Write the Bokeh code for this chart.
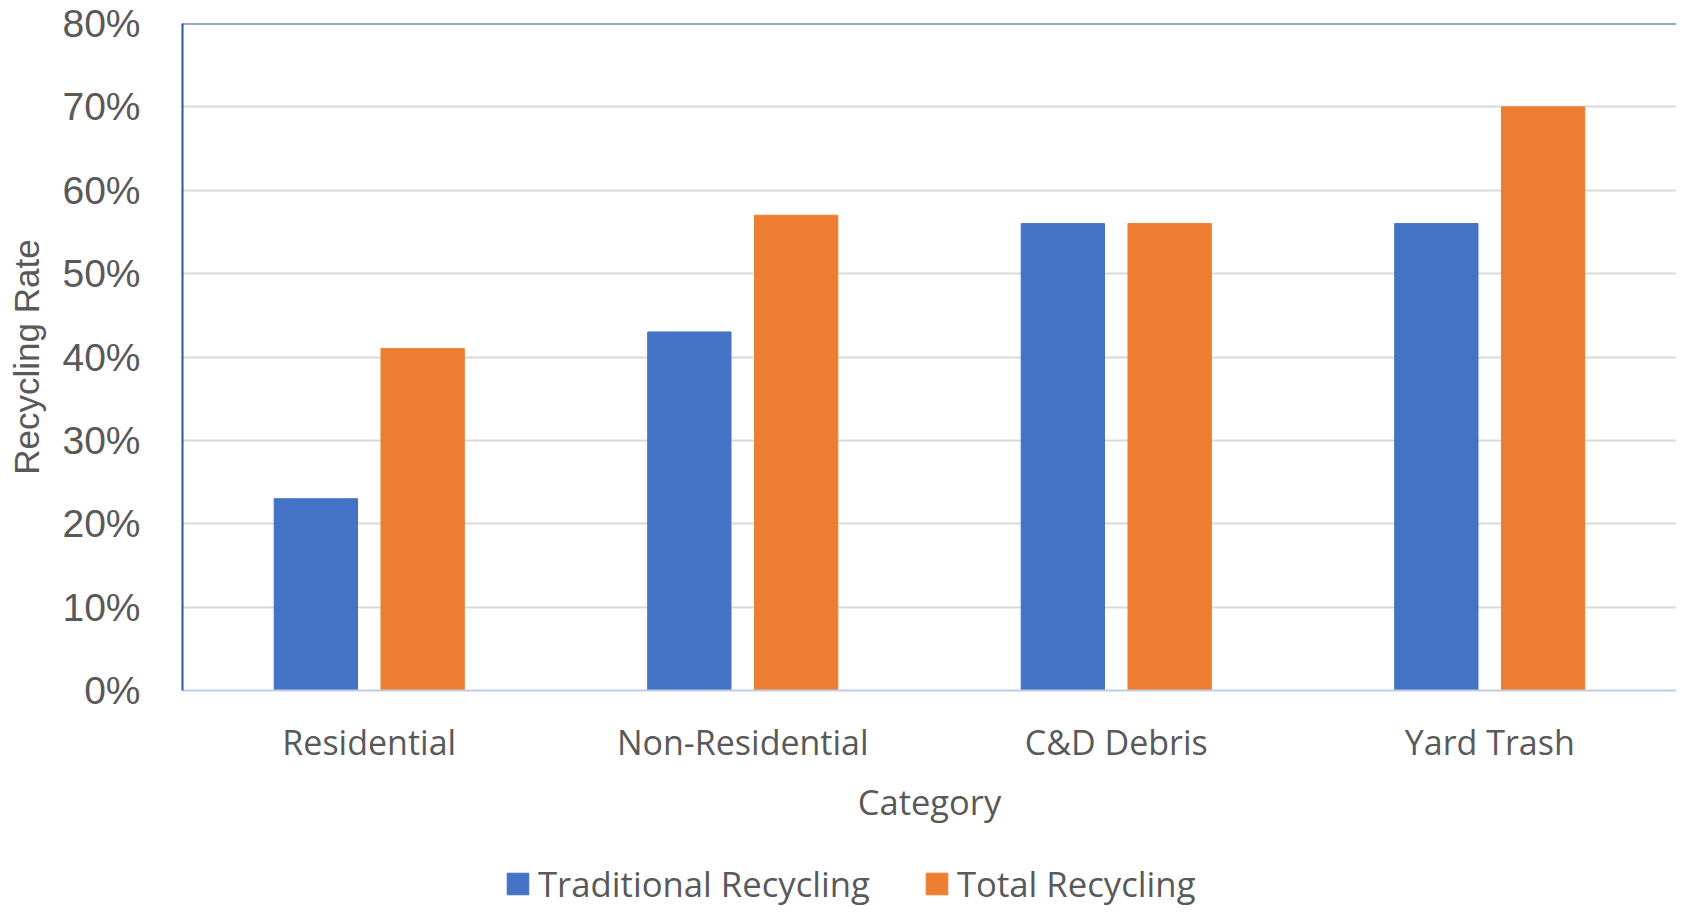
from bokeh.plotting import figure
from bokeh.models import (FactorRange, Range1d, NumeralTickFormatter, SingleIntervalTicker,
                          Legend, LegendItem, Span, ColumnDataSource)
from bokeh.layouts import column
from bokeh.transform import dodge
from bokeh.embed import file_html
from bokeh.resources import INLINE

categories = ["Residential", "Non-Residential", "C&D Debris", "Yard Trash"]
traditional = [0.23, 0.43, 0.56, 0.56]
total = [0.41, 0.57, 0.56, 0.70]
series_names = ["Traditional Recycling", "Total Recycling"]
y_ticks_max = 0.8

BLUE = "#4472C4"
ORANGE = "#ED7D31"
TEXT = "#595959"

src = ColumnDataSource(dict(cat=categories, trad=traditional, tot=total))

p = figure(x_range=FactorRange(*categories, range_padding=0),
           y_range=Range1d(0, y_ticks_max),
           width=1676, height=830, output_backend="svg", toolbar_location=None,
           min_border_left=182, min_border_right=0, min_border_top=23, min_border_bottom=140)

bw = 0.223
p.vbar(x=dodge("cat", -0.143, range=p.x_range), top="trad", width=bw, source=src,
       fill_color=BLUE, line_color=BLUE)
p.vbar(x=dodge("cat", 0.143, range=p.x_range), top="tot", width=bw, source=src,
       fill_color=ORANGE, line_color=ORANGE)

p.outline_line_color = None
p.background_fill_color = "white"
p.border_fill_color = "white"

p.xgrid.grid_line_color = None
p.ygrid.grid_line_color = "#D9D9D9"
p.ygrid.grid_line_width = 2
p.yaxis.ticker = SingleIntervalTicker(interval=0.1)
p.yaxis.formatter = NumeralTickFormatter(format="0%")

p.add_layout(Span(location=y_ticks_max, dimension="width", line_color="#2F5597", line_width=2))

ya = p.yaxis[0]
ya.axis_label = "Recycling Rate"
ya.axis_label_text_font = "Liberation Sans"
ya.axis_label_text_font_size = "35px"
ya.axis_label_text_font_style = "normal"
ya.axis_label_text_color = TEXT
ya.axis_label_standoff = 13
ya.major_label_text_font = "Liberation Sans"
ya.major_label_text_font_size = "39px"
ya.major_label_text_color = TEXT
ya.major_label_standoff = 42
ya.major_tick_out = 0
ya.major_tick_in = 0
ya.minor_tick_out = 0
ya.minor_tick_in = 0
ya.axis_line_color = "#2F5597"
ya.axis_line_width = 2

xa = p.xaxis[0]
xa.axis_label = "Category"
xa.axis_label_text_font = "Open Sans"
xa.axis_label_text_font_size = "34.5px"
xa.axis_label_text_font_style = "normal"
xa.axis_label_text_color = TEXT
xa.axis_label_standoff = 10
xa.major_label_text_font = "Open Sans"
xa.major_label_text_font_size = "34px"
xa.major_label_text_color = TEXT
xa.major_label_standoff = 28
xa.major_tick_out = 0
xa.major_tick_in = 0
xa.axis_line_color = "#BFCCE4"
xa.axis_line_width = 2

# legend strip below the chart (its bars lie outside its visible y range)
p2 = figure(width=1676, height=77, output_backend="svg", toolbar_location=None,
            x_range=FactorRange(*categories, range_padding=0), y_range=Range1d(1, 2),
            x_axis_type=None, y_axis_type=None,
            min_border_left=0, min_border_right=0, min_border_top=0, min_border_bottom=0)
p2.outline_line_color = None
p2.grid.grid_line_color = None
p2.background_fill_color = "white"
p2.border_fill_color = "white"
l1 = p2.vbar(x="cat", top="trad", width=bw, source=src, fill_color=BLUE, line_color=BLUE)
l2 = p2.vbar(x="cat", top="tot", width=bw, source=src, fill_color=ORANGE, line_color=ORANGE)

legend = Legend(items=[LegendItem(label=series_names[0], renderers=[l1]),
                       LegendItem(label=series_names[1], renderers=[l2])],
                orientation="horizontal", location=(322, 0),
                label_text_font="Open Sans", label_text_font_size="34.7px",
                label_text_color=TEXT, glyph_width=27, glyph_height=27,
                label_standoff=7, spacing=53, padding=0, margin=0,
                border_line_color=None, background_fill_alpha=0)
p2.add_layout(legend, "center")

layout = column(p, p2, spacing=0)
open("out.html", "w").write(file_html(layout, INLINE))
